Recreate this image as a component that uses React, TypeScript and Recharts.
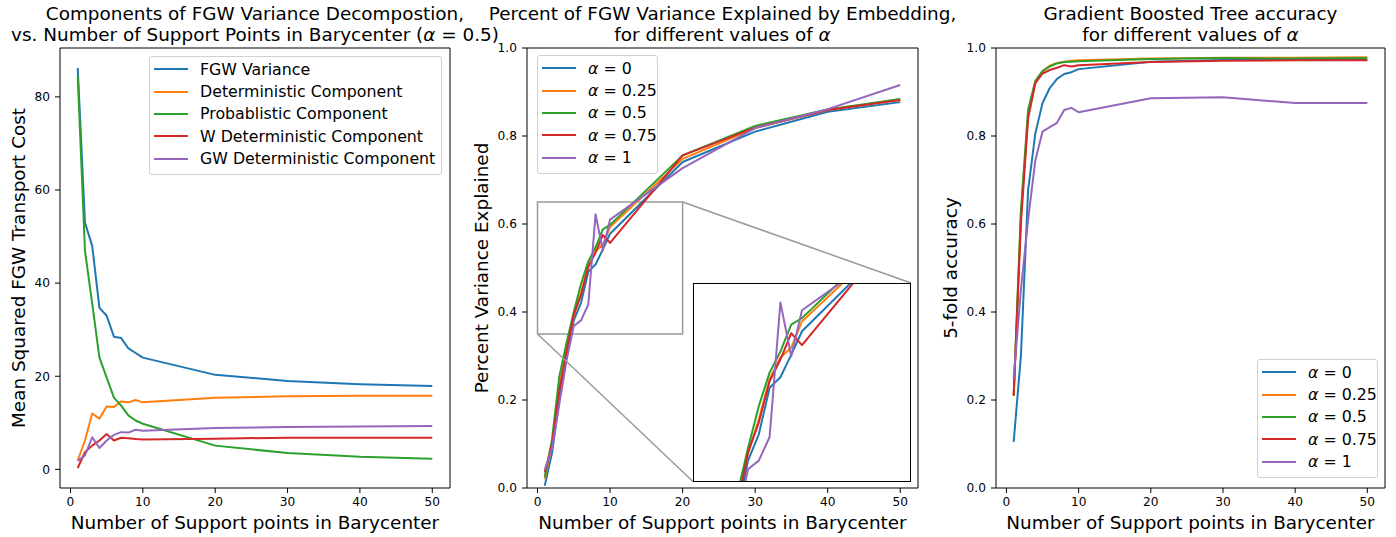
import { LineChart, Line, XAxis, YAxis, ReferenceArea, ReferenceLine } from 'recharts';

// number of support points in the barycenter (x values shared by every panel)
const SUPPORT_POINTS = [1, 2, 3, 4, 5, 6, 7, 8, 9, 10, 20, 30, 40, 50];
const X_TICKS = [0, 10, 20, 30, 40, 50];

// panel 1: variance decomposition (alpha = 0.5)
const FGW_VARIANCE = [86.2, 53, 48, 34.7, 33, 28.5, 28.2, 26, 25, 24, 20.3, 19, 18.3, 17.9];
const DETERMINISTIC = [1.9, 6.2, 12, 10.9, 13.5, 13.4, 14.6, 14.4, 14.9, 14.4, 15.4, 15.7, 15.8, 15.8];
const PROBABILISTIC = [84.5, 47, 35.6, 24, 19.7, 15.4, 13.7, 11.6, 10.5, 9.8, 5.1, 3.5, 2.7, 2.3];
const W_DETERMINISTIC = [0.3, 3.7, 5.1, 6.2, 7.6, 6.2, 6.8, 6.7, 6.5, 6.4, 6.6, 6.8, 6.8, 6.8];
const GW_DETERMINISTIC = [1.8, 3.0, 6.9, 4.6, 6.2, 7.4, 8.0, 7.9, 8.5, 8.3, 8.9, 9.1, 9.2, 9.3];
const COST_TICKS = [0, 20, 40, 60, 80];

// panel 2: percent of variance explained
const PVE_A0 = [0.005, 0.08, 0.2, 0.3, 0.381, 0.421, 0.492, 0.508, 0.542, 0.578, 0.741, 0.81, 0.855, 0.877];
const PVE_A025 = [0.02, 0.1, 0.23, 0.32, 0.391, 0.444, 0.505, 0.538, 0.553, 0.593, 0.748, 0.818, 0.859, 0.883];
const PVE_A05 = [0.025, 0.11, 0.253, 0.33, 0.4, 0.464, 0.515, 0.547, 0.588, 0.598, 0.756, 0.823, 0.86, 0.884];
const PVE_A075 = [0.035, 0.1, 0.22, 0.31, 0.394, 0.439, 0.502, 0.535, 0.575, 0.557, 0.756, 0.819, 0.859, 0.882];
const PVE_A1 = [0.042, 0.09, 0.19, 0.29, 0.368, 0.381, 0.417, 0.622, 0.54, 0.61, 0.727, 0.818, 0.861, 0.916];

// panel 3: gradient boosted tree 5-fold accuracy
const ACC_A0 = [0.105, 0.3, 0.677, 0.806, 0.875, 0.909, 0.93, 0.941, 0.945, 0.952, 0.969, 0.973, 0.973, 0.973];
const ACC_A025 = [0.21, 0.62, 0.85, 0.925, 0.947, 0.96, 0.966, 0.969, 0.971, 0.972, 0.976, 0.978, 0.978, 0.979];
const ACC_A05 = [0.21, 0.63, 0.86, 0.925, 0.948, 0.958, 0.965, 0.968, 0.969, 0.97, 0.975, 0.977, 0.976, 0.977];
const ACC_A075 = [0.21, 0.6, 0.84, 0.92, 0.942, 0.95, 0.955, 0.961, 0.958, 0.961, 0.968, 0.971, 0.972, 0.972];
const ACC_A1 = [0.25, 0.45, 0.61, 0.745, 0.81, 0.82, 0.83, 0.859, 0.864, 0.854, 0.886, 0.888, 0.875, 0.875];
const UNIT_TICKS = [0, 0.2, 0.4, 0.6, 0.8, 1.0];

const ALPHA_LABELS = ['0', '0.25', '0.5', '0.75', '1'];

const BLUE = '#1f77b4';
const ORANGE = '#ff7f0e';
const GREEN = '#2ca02c';
const RED = '#d62728';
const PURPLE = '#9467bd';
const COLORS = [BLUE, ORANGE, GREEN, RED, PURPLE];

const FONT = '"DejaVu Sans", sans-serif';
const CHART_H = 537;
const PLOT_TOP = 48;
const X_AXIS_H = 49;
const PLOT_BOTTOM = CHART_H - X_AXIS_H;
const X_DOMAIN: [number, number] = [-1.45, 52.45];
const GRAY = '#9a9a9a';

// zoomed region and where the inset sits, both in panel-2 data units
const ZOOM = { x1: 0, x2: 20, y1: 0.35, y2: 0.65 };
const INSET = { x1: 21.5, x2: 51.5, y1: 0.0136, y2: 0.466 };

type Series = { key: string; name: React.ReactNode; color: string; values: number[] };

const alphaName = (v: string) => (
  <span>
    <i>α</i> = {v}
  </span>
);

const panel1Series: Series[] = [
  { key: 'fgw', name: 'FGW Variance', color: BLUE, values: FGW_VARIANCE },
  { key: 'det', name: 'Deterministic Component', color: ORANGE, values: DETERMINISTIC },
  { key: 'prob', name: 'Probablistic Component', color: GREEN, values: PROBABILISTIC },
  { key: 'wdet', name: 'W Deterministic Component', color: RED, values: W_DETERMINISTIC },
  { key: 'gwdet', name: 'GW Deterministic Component', color: PURPLE, values: GW_DETERMINISTIC },
];

const pveValues = [PVE_A0, PVE_A025, PVE_A05, PVE_A075, PVE_A1];
const accValues = [ACC_A0, ACC_A025, ACC_A05, ACC_A075, ACC_A1];

const panel2Series: Series[] = ALPHA_LABELS.map((a, i) => ({
  key: `a${i}`,
  name: alphaName(a),
  color: COLORS[i],
  values: pveValues[i],
}));
const panel3Series: Series[] = ALPHA_LABELS.map((a, i) => ({
  key: `a${i}`,
  name: alphaName(a),
  color: COLORS[i],
  values: accValues[i],
}));

function rows(series: Series[]) {
  return SUPPORT_POINTS.map((x, i) => {
    const r: Record<string, number> = { x };
    series.forEach((s) => (r[s.key] = s.values[i]));
    return r;
  });
}

const tickStyle = { fontSize: 12.2, fill: '#000', fontFamily: FONT };
const labelStyle = { fontSize: 18.4, fill: '#000', fontFamily: FONT };

function Title({ center, lines }: { center: number; lines: React.ReactNode[] }) {
  return (
    <div
      style={{
        position: 'absolute',
        left: center - 300,
        width: 600,
        top: 3,
        textAlign: 'center',
        fontFamily: FONT,
        fontSize: 18.4,
        lineHeight: '21px',
        color: '#000',
        whiteSpace: 'nowrap',
      }}
    >
      {lines.map((l, i) => (
        <div key={i}>{l}</div>
      ))}
    </div>
  );
}

function LegendBox({ series, left, top, width }: { series: Series[]; left: number; top: number; width: number }) {
  return (
    <div
      style={{
        position: 'absolute',
        left,
        top,
        width,
        padding: '1px 0 4px 0',
        border: '1px solid #d0d0d0',
        borderRadius: 3,
        background: 'rgba(255,255,255,0.8)',
        fontFamily: FONT,
        fontSize: 15.8,
        boxSizing: 'border-box',
      }}
    >
      {series.map((s) => (
        <div key={s.key} style={{ display: 'flex', alignItems: 'center', height: 22.4 }}>
          <div style={{ width: 34, height: 2, background: s.color, marginLeft: 4, marginRight: 12 }} />
          <div style={{ whiteSpace: 'nowrap' }}>{s.name}</div>
        </div>
      ))}
    </div>
  );
}

function Panel({
  left,
  width,
  axisWidth,
  rightMargin,
  series,
  yDomain,
  yTicks,
  yFormat,
  yLabel,
  yLabelOffset,
  children,
}: {
  left: number;
  width: number;
  axisWidth: number;
  rightMargin: number;
  series: Series[];
  yDomain: [number, number];
  yTicks: number[];
  yFormat?: (v: number) => string;
  yLabel: string;
  yLabelOffset: number;
  children?: React.ReactNode;
}) {
  return (
    <div style={{ position: 'absolute', left, top: 0 }}>
      <LineChart
        width={width}
        height={CHART_H}
        data={rows(series)}
        margin={{ top: PLOT_TOP, right: rightMargin, bottom: 0, left: 0 }}
      >
        <XAxis
          dataKey="x"
          type="number"
          domain={X_DOMAIN}
          ticks={X_TICKS}
          allowDataOverflow
          height={X_AXIS_H}
          axisLine={false}
          tickSize={5}
          tickMargin={4}
          tickLine={{ stroke: '#000' }}
          tick={tickStyle}
          label={{
            value: 'Number of Support points in Barycenter',
            position: 'insideBottom',
            offset: 8,
            style: labelStyle,
          }}
        />
        <YAxis
          type="number"
          domain={yDomain}
          ticks={yTicks}
          allowDataOverflow
          width={axisWidth}
          axisLine={false}
          tickSize={5}
          tickMargin={5}
          tickLine={{ stroke: '#000' }}
          tick={tickStyle}
          tickFormatter={yFormat}
          label={{
            value: yLabel,
            angle: -90,
            position: 'insideLeft',
            offset: yLabelOffset,
            style: { ...labelStyle, textAnchor: 'middle' },
          }}
        />
        {series.map((s) => (
          <Line
            key={s.key}
            dataKey={s.key}
            stroke={s.color}
            strokeWidth={2}
            strokeLinejoin="round"
            dot={false}
            isAnimationActive={false}
          />
        ))}
        {children}
        <ReferenceArea
          x1={X_DOMAIN[0]}
          x2={X_DOMAIN[1]}
          y1={yDomain[0]}
          y2={yDomain[1]}
          fill="none"
          stroke="#000"
          strokeWidth={1}
          ifOverflow="visible"
        />
      </LineChart>
    </div>
  );
}

// panel 2 geometry, used to place the inset axes over the main axes
const P2_LEFT = 460;
const P2_AXIS_W = 67;
const P2_WIDTH = 468;
const P2_RIGHT_MARGIN = 10;
const p2PlotLeft = P2_LEFT + P2_AXIS_W;
const p2PlotW = P2_WIDTH - P2_AXIS_W - P2_RIGHT_MARGIN;
const p2x = (v: number) => p2PlotLeft + ((v - X_DOMAIN[0]) / (X_DOMAIN[1] - X_DOMAIN[0])) * p2PlotW;
const p2y = (v: number) => PLOT_BOTTOM - v * (PLOT_BOTTOM - PLOT_TOP);

function Inset() {
  const left = Math.round(p2x(INSET.x1));
  const right = Math.round(p2x(INSET.x2));
  const top = Math.round(p2y(INSET.y2));
  const bottom = Math.round(p2y(INSET.y1));
  return (
    <div
      style={{
        position: 'absolute',
        left,
        top,
        width: right - left,
        height: bottom - top,
        border: '1px solid #000',
        background: '#fff',
        boxSizing: 'border-box',
      }}
    >
      <LineChart
        width={right - left - 2}
        height={bottom - top - 2}
        data={rows(panel2Series)}
        margin={{ top: 0, right: 0, bottom: 0, left: 0 }}
      >
        <XAxis dataKey="x" type="number" domain={[ZOOM.x1, ZOOM.x2]} allowDataOverflow hide />
        <YAxis type="number" domain={[ZOOM.y1, ZOOM.y2]} allowDataOverflow hide />
        {panel2Series.map((s) => (
          <Line
            key={s.key}
            dataKey={s.key}
            stroke={s.color}
            strokeWidth={2}
            strokeLinejoin="round"
            dot={false}
            isAnimationActive={false}
          />
        ))}
      </LineChart>
    </div>
  );
}

const oneDecimal = (v: number) => v.toFixed(1);

export default function App() {
  return (
    <div style={{ position: 'absolute', left: 0, top: 0, width: 1396, height: 537, background: '#fff' }}>
      <Panel
        left={0}
        width={460}
        axisWidth={60}
        rightMargin={10}
        series={panel1Series}
        yDomain={[-4.0, 90.5]}
        yTicks={COST_TICKS}
        yLabel="Mean Squared FGW Transport Cost"
        yLabelOffset={18.5}
      />
      <Panel
        left={P2_LEFT}
        width={P2_WIDTH}
        axisWidth={P2_AXIS_W}
        rightMargin={P2_RIGHT_MARGIN}
        series={panel2Series}
        yDomain={[0, 1]}
        yTicks={UNIT_TICKS}
        yFormat={oneDecimal}
        yLabel="Percent Variance Explained"
        yLabelOffset={21.5}
      >
        <ReferenceArea
          x1={ZOOM.x1}
          x2={ZOOM.x2}
          y1={ZOOM.y1}
          y2={ZOOM.y2}
          fill="none"
          stroke={GRAY}
          strokeWidth={1.5}
          ifOverflow="visible"
        />
        <ReferenceLine
          segment={[
            { x: ZOOM.x2, y: ZOOM.y2 },
            { x: INSET.x2, y: INSET.y2 },
          ]}
          stroke={GRAY}
          strokeWidth={1.5}
          ifOverflow="visible"
        />
        <ReferenceLine
          segment={[
            { x: ZOOM.x1, y: ZOOM.y1 },
            { x: INSET.x1, y: INSET.y1 },
          ]}
          stroke={GRAY}
          strokeWidth={1.5}
          ifOverflow="visible"
        />
      </Panel>
      <Panel
        left={928}
        width={468}
        axisWidth={68}
        rightMargin={11}
        series={panel3Series}
        yDomain={[0, 1]}
        yTicks={UNIT_TICKS}
        yFormat={oneDecimal}
        yLabel="5-fold accuracy"
        yLabelOffset={22}
      />
      <Inset />
      <Title
        center={255}
        lines={[
          'Components of FGW Variance Decompostion,',
          <span>
            vs. Number of Support Points in Barycenter (<i>α</i> = 0.5)
          </span>,
        ]}
      />
      <Title
        center={722.5}
        lines={[
          'Percent of FGW Variance Explained by Embedding,',
          <span>
            for different values of <i>α</i>
          </span>,
        ]}
      />
      <Title
        center={1190.5}
        lines={[
          'Gradient Boosted Tree accuracy',
          <span>
            for different values of <i>α</i>
          </span>,
        ]}
      />
      <LegendBox series={panel1Series} left={149} top={56} width={293} />
      <LegendBox series={panel2Series} left={537} top={55} width={121} />
      <LegendBox series={panel3Series} left={1257} top={359} width={121} />
    </div>
  );
}
